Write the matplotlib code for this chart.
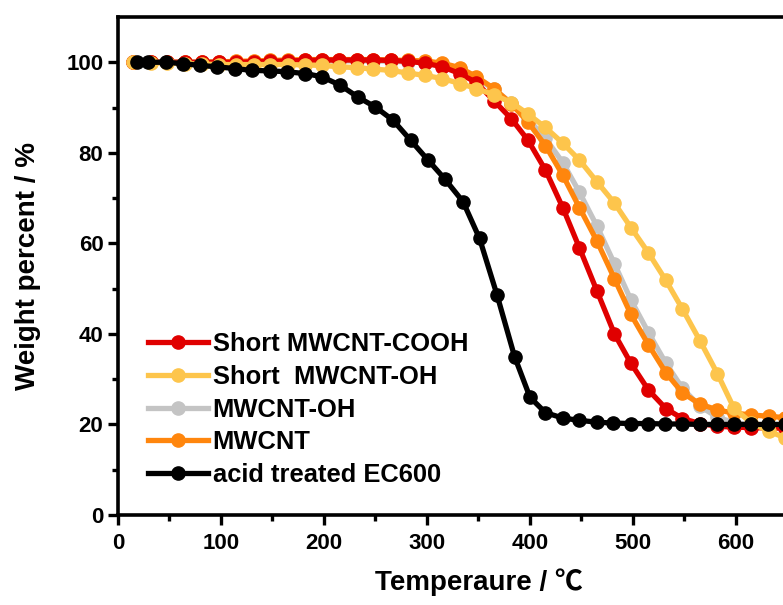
import matplotlib
matplotlib.use('Agg')
import matplotlib.pyplot as plt

# TGA curves (temperature in C, weight in %)
temp = [15, 32, 48, 65, 82, 98, 115, 132, 148, 165, 182, 198, 215, 232, 248, 265, 282, 298, 315, 332,
        348, 365, 382, 398, 415, 432, 448, 465, 482, 498, 515, 532, 548, 565, 582, 598, 615, 632, 648]

cooh_short = [100, 100, 100, 100, 100, 100, 100, 100.1, 100.2, 100.3, 100.4, 100.5, 100.5, 100.5, 100.5,
              100.4, 100.2, 99.8, 99.0, 97.5, 95.5, 91.5, 87.5, 82.8, 76.2, 67.8, 59.0, 49.5, 40.0, 33.5,
              27.6, 23.5, 21.3, 20.2, 19.6, 19.4, 19.3, 19.2, 19.2]
oh_short = [100, 99.9, 99.8, 99.7, 99.6, 99.5, 99.5, 99.5, 99.5, 99.5, 99.4, 99.3, 99.0, 98.8, 98.5,
            98.2, 97.6, 97.1, 96.4, 95.3, 94.2, 92.8, 91.1, 88.6, 85.6, 82.1, 78.4, 73.6, 68.9, 63.5,
            57.9, 51.8, 45.5, 38.5, 31.2, 23.6, 20.3, 18.5, 17.0]
mwcnt_oh = [100, 100, 100, 100, 100, 100, 100, 100, 100.1, 100.2, 100.3, 100.3, 100.3, 100.3, 100.3,
            100.2, 100.1, 99.9, 99.5, 98.5, 96.5, 94.0, 91.0, 87.5, 83.2, 77.8, 71.3, 63.8, 55.5, 47.5,
            40.3, 33.5, 28.0, 24.0, 21.6, 20.4, 19.8, 19.4, 19.0]
mwcnt = [100, 100, 100, 100, 100, 100.1, 100.2, 100.3, 100.4, 100.5, 100.6, 100.6, 100.6, 100.6, 100.6,
         100.5, 100.4, 100.3, 99.8, 98.8, 96.8, 94.2, 90.8, 86.8, 81.6, 75.0, 67.9, 60.5, 52.2, 44.3,
         37.6, 31.4, 27.0, 24.5, 23.2, 22.5, 22.1, 21.8, 21.5]

temp_ec = [18, 29, 47, 63, 80, 96, 114, 130, 148, 164, 182, 198, 216, 233, 250, 267, 284, 301, 317, 335,
           351, 368, 385, 400, 415, 432, 448, 465, 481, 498, 515, 531, 548, 565, 582, 598, 615, 631, 648]
ec600 = [100, 100, 100, 99.7, 99.3, 99.0, 98.6, 98.2, 98.1, 97.9, 97.5, 96.8, 94.9, 92.3, 90.1, 87.2,
         82.8, 78.4, 74.3, 69.2, 61.1, 48.6, 35.0, 26.0, 22.6, 21.4, 20.9, 20.5, 20.3, 20.2, 20.2, 20.1,
         20.1, 20.0, 20.0, 20.0, 20.0, 20.0, 20.0]

plt.rcParams['font.family'] = ['Liberation Sans', 'Noto Sans CJK SC', 'DejaVu Sans']
plt.rcParams['font.weight'] = 'bold'

fig = plt.figure(figsize=(7.83, 6.05), dpi=100)
# axes runs past the right edge, as in the cropped original
ax = fig.add_axes([0.1507, 0.1488, 0.9208, 0.8231])

style = dict(marker='o', lw=3.8, ms=9.5)
l_oh = ax.plot(temp, mwcnt_oh, color='#c4c4c4', label='MWCNT-OH', **style)[0]
l_mw = ax.plot(temp, mwcnt, color='#ff860d', label='MWCNT', **style)[0]
l_cooh = ax.plot(temp, cooh_short, color='#e00000', label='Short MWCNT-COOH', **style)[0]
l_ohs = ax.plot(temp, oh_short, color='#fdc54c', label='Short  MWCNT-OH', **style)[0]
l_ec = ax.plot(temp_ec, ec600, color='black', label='acid treated EC600', **style)[0]

ax.set_xlim(0, 700)
ax.set_ylim(0, 110)
ax.set_xticks([0, 100, 200, 300, 400, 500, 600])
ax.set_xticks([50, 150, 250, 350, 450, 550, 650], minor=True)
ax.set_yticks([0, 20, 40, 60, 80, 100])
ax.set_yticks([10, 30, 50, 70, 90], minor=True)
ax.tick_params(which='major', direction='out', length=7, width=2.4, labelsize=16)
ax.tick_params(axis='x', which='major', pad=6)
ax.tick_params(which='minor', direction='out', length=4, width=2.4)
for lab in ax.get_xticklabels() + ax.get_yticklabels():
    lab.set_fontweight('bold')
for s in ax.spines.values():
    s.set_linewidth(2.6)

ax.set_xlabel('Temperaure / ℃', fontsize=20, fontweight='bold', labelpad=10)
ax.set_ylabel('Weight percent / %', fontsize=20, fontweight='bold', labelpad=18)

ax.legend(handles=[l_cooh, l_ohs, l_oh, l_mw, l_ec], loc='upper left',
          bbox_to_anchor=(0.041, 0.367), frameon=False, borderaxespad=0, borderpad=0,
          handlelength=2.35, handletextpad=0.2, labelspacing=0.34,
          prop={'weight': 'bold', 'size': 18.4})

fig.savefig('out.png', dpi=100)
